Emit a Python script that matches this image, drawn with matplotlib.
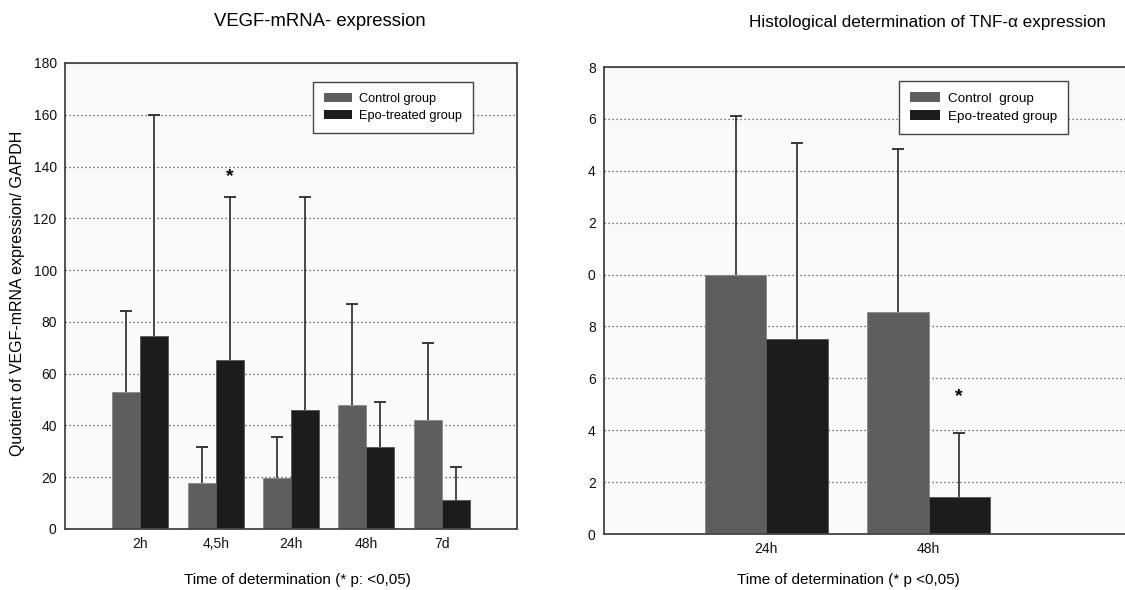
import matplotlib
matplotlib.use("Agg")
import matplotlib.pyplot as plt
from matplotlib.patches import Patch
import numpy as np

plt.rcParams['font.family'] = ['Liberation Sans', 'DejaVu Sans']

# Left chart data
vegf_times = ["2h", "4,5h", "24h", "48h", "7d"]
vegf_control = [52.9, 17.6, 19.8, 47.9, 42.1]
vegf_control_err = [31.3, 13.9, 15.9, 39.2, 29.9]
vegf_epo = [74.7, 65.4, 46.1, 31.7, 11.1]
vegf_epo_err = [85.1, 62.7, 82.1, 17.5, 13.0]
vegf_yticks = [0, 20, 40, 60, 80, 100, 120, 140, 160, 180]

# Right chart data
tnf_times = ["24h", "48h"]
tnf_control = [10.0, 8.57]
tnf_control_err = [6.13, 6.28]
tnf_epo = [7.52, 1.43]
tnf_epo_err = [7.56, 2.45]
tnf_yticks = [0, 2, 4, 6, 8, 10, 12, 14, 16, 18]
tnf_yticklabels = ["0", "2", "4", "6", "8", "0", "2", "4", "6", "8"]

legend_labels_left = ["Control group", "Epo-treated group"]
legend_labels_right = ["Control  group", "Epo-treated group"]

c_ctrl = "#5e5e5e"
c_epo = "#1c1c1c"
err_c = "#2a2a2a"

W, H = 1125, 590
fig = plt.figure(figsize=(W / 100, H / 100), dpi=100)
fig.patch.set_facecolor("white")


def px_axes(x0, y0, x1, y1):
    return fig.add_axes([x0 / W, 1 - y1 / H, (x1 - x0) / W, (y1 - y0) / H])


def style(ax):
    ax.set_facecolor("#fafafa")
    for s in ax.spines.values():
        s.set_color("#444444")
        s.set_linewidth(1.3)
    ax.tick_params(length=0, labelsize=10, colors="#111111", pad=6)
    ax.yaxis.grid(True, linestyle=(0, (1, 2.2)), color="#444444", linewidth=0.9)
    ax.set_axisbelow(True)


def up_err(ax, xs, vals, errs):
    xs = np.asarray(xs, float)
    vals = np.asarray(vals, float)
    tops = vals + np.asarray(errs, float)
    ax.vlines(xs, vals, tops, colors=err_c, linewidth=1.2, zorder=3)
    ax.plot(xs, tops, linestyle="none", marker="_", markersize=9, markeredgewidth=1.3,
            color=err_c, zorder=3)


def draw(ax, cats, ctrl, ctrl_err, epo, epo_err, w):
    x = np.arange(len(cats))
    ax.bar(x - w / 2, ctrl, w, color=c_ctrl, edgecolor="#8a8a8a", linewidth=0.6, zorder=2)
    ax.bar(x + w / 2, epo, w, color=c_epo, edgecolor="#555555", linewidth=0.6, zorder=2)
    up_err(ax, x - w / 2, ctrl, ctrl_err)
    up_err(ax, x + w / 2, epo, epo_err)
    ax.set_xticks(x)
    ax.set_xticklabels(cats)
    return x


def legend(ax, labels, anchor, fs, hl):
    h = [Patch(facecolor=c_ctrl), Patch(facecolor=c_epo)]
    leg = ax.legend(h, labels, loc="upper left", bbox_to_anchor=anchor,
                    frameon=True, fancybox=False, fontsize=fs, handlelength=hl, handleheight=0.7,
                    borderpad=0.85, labelspacing=0.4, handletextpad=0.55, borderaxespad=0)
    fr = leg.get_frame()
    fr.set_edgecolor("#444444")
    fr.set_linewidth(1.0)
    fr.set_facecolor("white")
    fr.set_alpha(1)
    return leg


# ---------- Left ----------
ax1 = px_axes(65, 63, 517, 529)
style(ax1)
w1 = 0.372
x1 = draw(ax1, vegf_times, vegf_control, vegf_control_err, vegf_epo, vegf_epo_err, w1)
ax1.set_xlim(-1, 5)
ax1.set_ylim(0, 180)
ax1.set_yticks(vegf_yticks)
ax1.text(x1[1] + w1 / 2, 136.0, "*", ha="center", va="center", fontsize=14, fontweight="bold")
legend(ax1, legend_labels_left, ((313 - 65) / 452, 1 - (82 - 63) / 466), 9.2, 2.2)

fig.text(320 / W, 1 - 22 / H, "VEGF-mRNA- expression", ha="center", va="center", fontsize=13.3)
fig.text(297 / W, 1 - 580 / H, "Time of determination (* p: <0,05)", ha="center", va="center", fontsize=11)
fig.text(18 / W, 1 - 293 / H, "Quotient of VEGF-mRNA expression/ GAPDH", ha="center", va="center",
         rotation=90, fontsize=11.5)

# ---------- Right ----------
ax2 = px_axes(604, 67, 1125, 534)
style(ax2)
ax2.spines["right"].set_visible(False)
w2 = 0.377
x2 = draw(ax2, tnf_times, tnf_control, tnf_control_err, tnf_epo, tnf_epo_err, w2)
ax2.set_xlim(-1, (1125 - 767) / 162.0)
ax2.set_ylim(0, 18)
ax2.set_yticks(tnf_yticks)
ax2.set_yticklabels(tnf_yticklabels)
ax2.text(x2[1] + w2 / 2, 5.3, "*", ha="center", va="center", fontsize=14, fontweight="bold")
legend(ax2, legend_labels_right, ((899 - 604) / 521, 1 - (81 - 67) / 467), 9.7, 2.2)

fig.text(927 / W, 1 - 22 / H, "Histological determination of TNF-\u03b1 expression", ha="center", va="center",
         fontsize=12.3)
fig.text(848 / W, 1 - 580 / H, "Time of determination (* p <0,05)", ha="center", va="center", fontsize=11)

fig.savefig("out.png", dpi=100, facecolor="white")
